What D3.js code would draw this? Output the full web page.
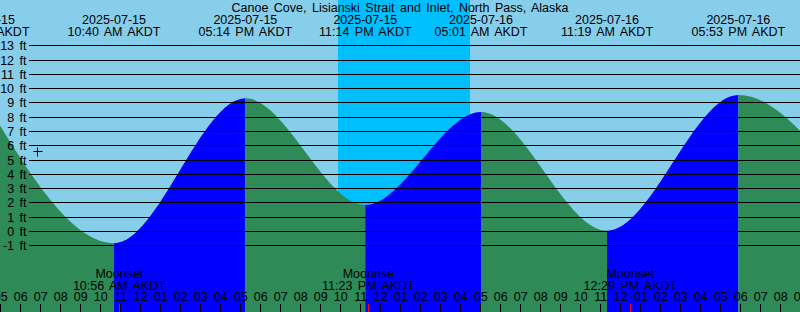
<!DOCTYPE html>
<html>
<head>
<meta charset="utf-8">
<script src="https://cdn.jsdelivr.net/npm/d3@7"></script>
<style>
  html, body { margin: 0; padding: 0; background: #fff; }
  svg { display: block; }
  text { font-family: "Liberation Sans", Arial, sans-serif; font-size: 12.5px; fill: #000; word-spacing: 2px; }
</style>
</head>
<body>
<div id="chart"></div>
<script>
// ---------- data ----------
const title = "Canoe Cove, Lisianski Strait and Inlet, North Pass, Alaska";
const timeStart = "2025-07-15 05:00";
const timeEnd = "2025-07-16 21:00";

const tideTimes   = ["2025-07-15 04:07", "2025-07-15 10:40", "2025-07-15 17:14", "2025-07-15 23:14",
                     "2025-07-16 05:01", "2025-07-16 11:19", "2025-07-16 17:53", "2025-07-16 23:50"];
const tideHeights = [9.35, -0.86, 9.29, 1.82, 8.33, 0.02, 9.52, 2.0];
const tideDates   = ["2025-07-15", "2025-07-15", "2025-07-15", "2025-07-15",
                     "2025-07-16", "2025-07-16", "2025-07-16", "2025-07-16"];
const tideLabels  = ["04:07 AM AKDT", "10:40 AM AKDT", "05:14 PM AKDT", "11:14 PM AKDT",
                     "05:01 AM AKDT", "11:19 AM AKDT", "05:53 PM AKDT", "11:50 PM AKDT"];

const nightStart = ["2025-07-15 21:52"];
const nightEnd   = ["2025-07-16 04:28"];

const moonTimes  = ["2025-07-15 10:56", "2025-07-15 23:23", "2025-07-16 12:29"];
const moonEvents = ["Moonset", "Moonrise", "Moonset"];
const moonLabels = ["10:56 AM AKDT", "11:23 PM AKDT", "12:29 PM AKDT"];

const markerTime = "2025-07-15 06:50";
const markerHeight = 5.6;

const yTicks = [-1, 0, 1, 2, 3, 4, 5, 6, 7, 8, 9, 10, 11, 12, 13];

// ---------- setup ----------
const W = 800, H = 312;
const parse = d3.utcParse("%Y-%m-%d %H:%M");
const colors = { day: "#87CEEB", night: "#00BFFF", rising: "#0000FF", falling: "#2E8B57" };

const x = d3.scaleUtc().domain([parse(timeStart), parse(timeEnd)]).range([0.7, 800.7]);
const y = d3.scaleLinear().domain([-1, 13]).range([245.3, 45.3]);

const svg = d3.select("#chart").append("svg").attr("width", W).attr("height", H);

// background
svg.append("rect").attr("x", 0).attr("y", 0).attr("width", W).attr("height", H).attr("fill", colors.day);
nightStart.forEach((s, i) => {
  const x0 = Math.round(x(parse(s))), x1 = Math.round(x(parse(nightEnd[i])));
  svg.append("rect").attr("x", x0).attr("y", 0).attr("width", x1 - x0).attr("height", H).attr("fill", colors.night);
});

// tide area
const tides = tideTimes.map((t, i) => ({ t: parse(t), h: tideHeights[i], date: tideDates[i], label: tideLabels[i] }));
const area = d3.area().x(d => x(d.t)).y0(H).y1(d => y(d.h)).curve(d3.curveMonotoneX);

svg.append("clipPath").attr("id", "tideClip").append("path").attr("d", area(tides));
const fillG = svg.append("g").attr("clip-path", "url(#tideClip)");
for (let i = 0; i < tides.length - 1; i++) {
  const a = tides[i], b = tides[i + 1];
  const x0 = x(a.t), x1 = x(b.t);
  fillG.append("rect").attr("x", x0).attr("y", 0).attr("width", x1 - x0).attr("height", H)
    .attr("fill", b.h > a.h ? colors.rising : colors.falling);
}

// horizontal grid lines + labels
yTicks.forEach(v => {
  const yy = Math.round(y(v)) + 0.5;
  svg.append("line").attr("x1", 29).attr("x2", W).attr("y1", yy).attr("y2", yy)
    .attr("stroke", "#000").attr("stroke-width", 1);
  svg.append("text").attr("x", 26.5).attr("y", yy + 4.5).attr("text-anchor", "end").text(v + " ft");
});

// title
svg.append("text").attr("x", 400).attr("y", 12).attr("text-anchor", "middle").text(title);

// extreme labels (only those that reach into the picture)
tides.filter(d => x(d.t) > -50 && x(d.t) < W + 40).forEach(d => {
  const cx = x(d.t);
  svg.append("text").attr("x", cx).attr("y", 24).attr("text-anchor", "middle").text(d.date);
  svg.append("text").attr("x", cx).attr("y", 36).attr("text-anchor", "middle").text(d.label);
});

// moon labels
moonTimes.forEach((t, i) => {
  const cx = x(parse(t));
  svg.append("text").attr("x", cx).attr("y", 278).attr("text-anchor", "middle").text(moonEvents[i]);
  svg.append("text").attr("x", cx).attr("y", 290).attr("text-anchor", "middle").text(moonLabels[i]);
});

// hour ticks + labels
const hours = d3.utcHour.range(parse(timeStart), d3.utcHour.offset(parse(timeEnd), 1));
const fmtHour = d3.utcFormat("%I");
hours.forEach(h => {
  const xx = Math.floor(x(h));
  const midnight = h.getUTCHours() === 0;
  svg.append("rect").attr("x", midnight ? xx - 1 : xx).attr("y", 304).attr("width", midnight ? 2 : 1).attr("height", 8).attr("fill", "#000");
  svg.append("text").attr("x", x(h)).attr("y", 300.5).attr("text-anchor", "middle").text(fmtHour(h));
});
moonTimes.forEach(t => {
  const xx = Math.floor(x(parse(t)));
  svg.append("rect").attr("x", xx).attr("y", 304).attr("width", 1).attr("height", 8).attr("fill", "#FF0000");
});

// current-time marker
const mx = Math.round(x(parse(markerTime))) + 0.5, my = Math.round(y(markerHeight)) + 0.5;
svg.append("line").attr("x1", mx - 4).attr("x2", mx + 5).attr("y1", my).attr("y2", my).attr("stroke", "#000");
svg.append("line").attr("x1", mx).attr("x2", mx).attr("y1", my - 4).attr("y2", my + 5).attr("stroke", "#000");
</script>
</body>
</html>
